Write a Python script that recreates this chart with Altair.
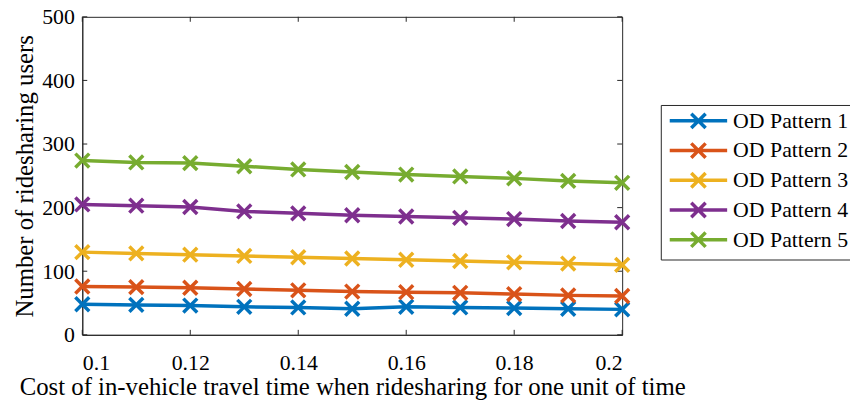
import altair as alt
import pandas as pd

x_vals = [0.10, 0.11, 0.12, 0.13, 0.14, 0.15, 0.16, 0.17, 0.18, 0.19, 0.20]
series_names = ["OD Pattern 1", "OD Pattern 2", "OD Pattern 3", "OD Pattern 4", "OD Pattern 5"]
p1 = [48, 47, 46, 44, 43, 41, 44, 43, 42, 41, 40]
p2 = [76, 75, 74, 72, 70, 68, 67, 66, 64, 62, 61]
p3 = [130, 128, 126, 124, 122, 120, 118, 116, 114, 112, 110]
p4 = [205, 203, 201, 194, 191, 188, 186, 184, 182, 179, 177]
p5 = [274, 271, 270, 265, 260, 256, 252, 249, 246, 242, 239]
colors = ["#0072BD", "#D95319", "#EDB120", "#7E2F8E", "#77AC30"]
x_ticks = [0.1, 0.12, 0.14, 0.16, 0.18, 0.2]
y_ticks = [0, 100, 200, 300, 400, 500]

rows = []
for name, vals in zip(series_names, [p1, p2, p3, p4, p5]):
    for xv, yv in zip(x_vals, vals):
        rows.append({"x": xv, "y": yv, "series": name})
df = pd.DataFrame(rows)
xt = pd.DataFrame({"x": x_ticks})
yt = pd.DataFrame({"y": y_ticks})

W, H = 545, 321
TL = 5
FONT = "Liberation Serif"
AX = "#262626"
color_scale = alt.Scale(domain=series_names, range=colors)
xscale = alt.Scale(domain=[0.1, 0.2], nice=False)
yscale = alt.Scale(domain=[0, 500], nice=False)

xenc = alt.X("x:Q", scale=xscale,
             axis=alt.Axis(values=x_ticks, format="~f",
                           title="Cost of in-vehicle travel time when ridesharing for one unit of time"))
yenc = alt.Y("y:Q", scale=yscale,
             axis=alt.Axis(values=y_ticks, title="Number of ridesharing users"))

legend_symbol = "M-4,0L4,0M-1,-1L1,1M-1,1L1,-1"

lines = alt.Chart(df).mark_line(strokeWidth=3.5).encode(
    x=xenc, y=yenc,
    color=alt.Color("series:N", scale=color_scale,
                    legend=alt.Legend(title=None, orient="none", legendX=584, legendY=89,
                                      symbolType=legend_symbol, symbolSize=210,
                                      symbolStrokeWidth=3.5, symbolFillColor="transparent",
                                      symbolOffset=22,
                                      labelFont=FONT, labelFontSize=22, labelColor="black",
                                      labelOffset=24, rowPadding=0,
                                      fillColor="white", strokeColor=AX,
                                      padding=5)),
    detail="series:N",
)

points = alt.Chart(df).mark_point(
    shape="M-1,-1L1,1M-1,1L1,-1", filled=False, strokeWidth=3.5, size=196, opacity=1
).encode(
    x=xenc, y=yenc,
    color=alt.Color("series:N", scale=color_scale, legend=None),
)

tick_bottom = alt.Chart(xt).mark_rule(color=AX, strokeWidth=1).encode(
    x=alt.X("x:Q", scale=xscale), y=alt.value(H), y2=alt.value(H - TL))
tick_top = alt.Chart(xt).mark_rule(color=AX, strokeWidth=1).encode(
    x=alt.X("x:Q", scale=xscale), y=alt.value(0), y2=alt.value(TL))
tick_left = alt.Chart(yt).mark_rule(color=AX, strokeWidth=1).encode(
    y=alt.Y("y:Q", scale=yscale), x=alt.value(0), x2=alt.value(TL))
tick_right = alt.Chart(yt).mark_rule(color=AX, strokeWidth=1).encode(
    y=alt.Y("y:Q", scale=yscale), x=alt.value(W), x2=alt.value(W - TL))

chart = alt.layer(tick_bottom, tick_top, tick_left, tick_right, lines, points).properties(
    width=W, height=H,
    autosize=alt.AutoSizeParams(type="none"),
    padding={"left": 75, "top": 7, "right": 858 - 8 - 75 - W, "bottom": 74},
).configure_view(
    stroke=AX, strokeWidth=1
).configure_axis(
    labelFont=FONT, titleFont=FONT, labelFontSize=22, titleFontSize=25,
    labelColor="black", titleColor="black", titleFontWeight="normal",
    domainColor=AX, ticks=False, grid=False,
).configure_axisX(
    labelPadding=18, titlePadding=1
).configure_axisY(
    labelPadding=8, titlePadding=4
)

chart.save("out.html", embed_options={"renderer": "svg", "actions": False})
